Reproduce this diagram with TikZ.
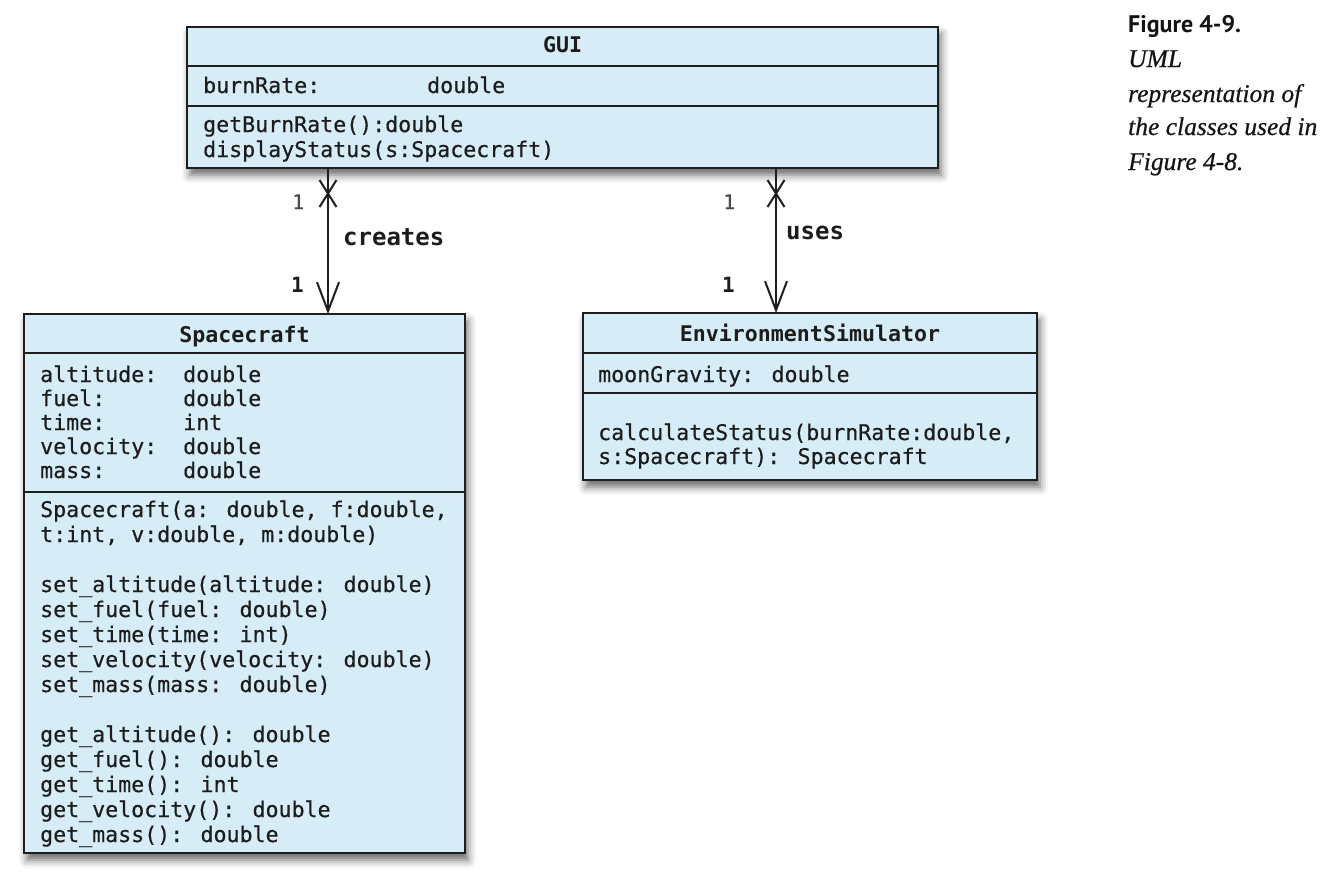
\documentclass[tikz,border=0pt]{standalone}
\usepackage{fontspec}
\usetikzlibrary{calc,arrows.meta,shadows.blur}
\newfontfamily\codefont[FakeBold=0.5]{DejaVu Sans Mono}
\newfontfamily\codebold{DejaVu Sans Mono Bold}
\newfontfamily\capsans{PT Sans}
\newfontfamily\capserif[FakeBold=0.6]{Liberation Serif}
\definecolor{classfill}{RGB}{214,237,247}
\definecolor{classline}{RGB}{30,30,30}
\definecolor{codeink}{RGB}{28,28,28}
\definecolor{capink}{RGB}{20,20,20}
\tikzset{
  classbox/.style={draw=classline, fill=classfill, line width=2pt,
    inner sep=0pt, outer sep=0pt, anchor=north west,
    blur shadow={shadow xshift=3pt, shadow yshift=-7pt,
      shadow blur radius=8pt, shadow opacity=60}},
  divider/.style={draw=classline, line width=2pt},
  code/.style={inner sep=0pt, anchor=base west, text=codeink,
    font=\codefont\fontsize{21.6}{24}\selectfont},
  title/.style={inner sep=0pt, anchor=base, text=codeink,
    font=\codebold\fontsize{21.6}{24}\selectfont},
  rolelabel/.style={inner sep=0pt, anchor=base west, text=codeink,
    font=\codebold\fontsize{24}{28}\selectfont},
  mult/.style={inner sep=0pt, anchor=base west, text=codeink!80,
    font=\codefont\fontsize{20}{24}\selectfont},
  multstrong/.style={mult, text=codeink, font=\codebold\fontsize{21}{24}\selectfont},
  assoc/.style={draw=classline, line width=2.2pt,
    -{Straight Barb[length=29pt,width=22pt,line width=2pt]}},
  endx/.style={draw=classline, line width=2pt},
  capline/.style={inner sep=0pt, anchor=base west, text=capink},
}
\begin{document}
\begin{tikzpicture}[x=1pt,y=-1pt]
\useasboundingbox (0,0) rectangle (1332,879);

% ---------- class GUI ----------
\node[classbox, minimum width=751pt, minimum height=141pt] (gui) at (187,27) {};
\draw[divider] ($(gui.north west)+(0,39)$) -- ($(gui.north east)+(0,39)$);
\draw[divider] ($(gui.north west)+(0,79)$) -- ($(gui.north east)+(0,79)$);
\node[title] (guiT) at (562.5,52) {GUI};
\node[code] (guiA1) at (203,93) {burnRate:};
\node[code] (guiA1t) at (427,93) {double};
\node[code] (guiM1) at (203,132) {getBurnRate():double};
\node[code] (guiM2) at (203,157) {displayStatus(s:Spacecraft)};

% ---------- class Spacecraft ----------
\node[classbox, minimum width=441pt, minimum height=539pt] (sc) at (24,314) {};
\draw[divider] ($(sc.north west)+(0,39)$) -- ($(sc.north east)+(0,39)$);
\draw[divider] ($(sc.north west)+(0,178)$) -- ($(sc.north east)+(0,178)$);
\node[title] (scT) at (244.5,342) {Spacecraft};
\node[code] (scA1) at (40,382) {altitude:};
\node[code] (scA2) at (40,406) {fuel:};
\node[code] (scA3) at (40,430) {time:};
\node[code] (scA4) at (40,454) {velocity:};
\node[code] (scA5) at (40,478) {mass:};
\node[code] (scA1t) at (183,382) {double};
\node[code] (scA2t) at (183,406) {double};
\node[code] (scA3t) at (183,430) {int};
\node[code] (scA4t) at (183,454) {double};
\node[code] (scA5t) at (183,478) {double};
\node[code] (scM1) at (40,517) {Spacecraft(a: double, f:double,};
\node[code] (scM2) at (40,542) {t:int, v:double, m:double)};
\node[code] (scM3) at (40,592) {set\_altitude(altitude: double)};
\node[code] (scM4) at (40,617) {set\_fuel(fuel: double)};
\node[code] (scM5) at (40,642) {set\_time(time: int)};
\node[code] (scM6) at (40,667) {set\_velocity(velocity: double)};
\node[code] (scM7) at (40,692) {set\_mass(mass: double)};
\node[code] (scM8) at (40,742) {get\_altitude(): double};
\node[code] (scM9) at (40,767) {get\_fuel(): double};
\node[code] (scM10) at (40,792) {get\_time(): int};
\node[code] (scM11) at (40,817) {get\_velocity(): double};
\node[code] (scM12) at (40,842) {get\_mass(): double};

% ---------- class EnvironmentSimulator ----------
\node[classbox, minimum width=454pt, minimum height=167pt] (env) at (583,313) {};
\draw[divider] ($(env.north west)+(0,40)$) -- ($(env.north east)+(0,40)$);
\draw[divider] ($(env.north west)+(0,80)$) -- ($(env.north east)+(0,80)$);
\node[title] (envT) at (810,341) {EnvironmentSimulator};
\node[code] (envA1) at (598,382) {moonGravity: double};
\node[code] (envM1) at (598,440) {calculateStatus(burnRate:double,};
\node[code] (envM2) at (598,464) {s:Spacecraft): Spacecraft};

% ---------- associations ----------
\coordinate (creS) at (gui.south -| 328,0);
\coordinate (creE) at (sc.north -| 328,0);
\draw[assoc] (creS) -- (creE);
\draw[endx] ($(creS)+(-8.5,12)$) -- ($(creS)+(8.5,39)$)
            ($(creS)+(8.5,12)$) -- ($(creS)+(-8.5,39)$);
\node[mult] (creM1) at (292,209) {1};
\node[multstrong] (creM2) at (291,292) {1};
\node[rolelabel] (creL) at (343,245) {creates};

\coordinate (useS) at (gui.south -| 776,0);
\coordinate (useE) at (env.north -| 776,0);
\draw[assoc] (useS) -- (useE);
\draw[endx] ($(useS)+(-8.5,12)$) -- ($(useS)+(8.5,39)$)
            ($(useS)+(8.5,12)$) -- ($(useS)+(-8.5,39)$);
\node[mult] (useM1) at (723,209) {1};
\node[multstrong] (useM2) at (722,292) {1};
\node[rolelabel] (useL) at (786,239) {uses};

% ---------- caption ----------
\node[capline, font=\capsans\bfseries\fontsize{24}{28}\selectfont] (cap1) at (1128,32) {Figure 4-9.};
\node[capline, font=\capserif\itshape\fontsize{25.5}{30}\selectfont] (cap2) at (1128,67) {UML};
\node[capline, font=\capserif\itshape\fontsize{25.5}{30}\selectfont] (cap3) at (1128,102) {representation of};
\node[capline, font=\capserif\itshape\fontsize{25.5}{30}\selectfont] (cap4) at (1128,135) {the classes used in};
\node[capline, font=\capserif\itshape\fontsize{25.5}{30}\selectfont] (cap5) at (1128,170) {Figure 4-8.};
\end{tikzpicture}
\end{document}
